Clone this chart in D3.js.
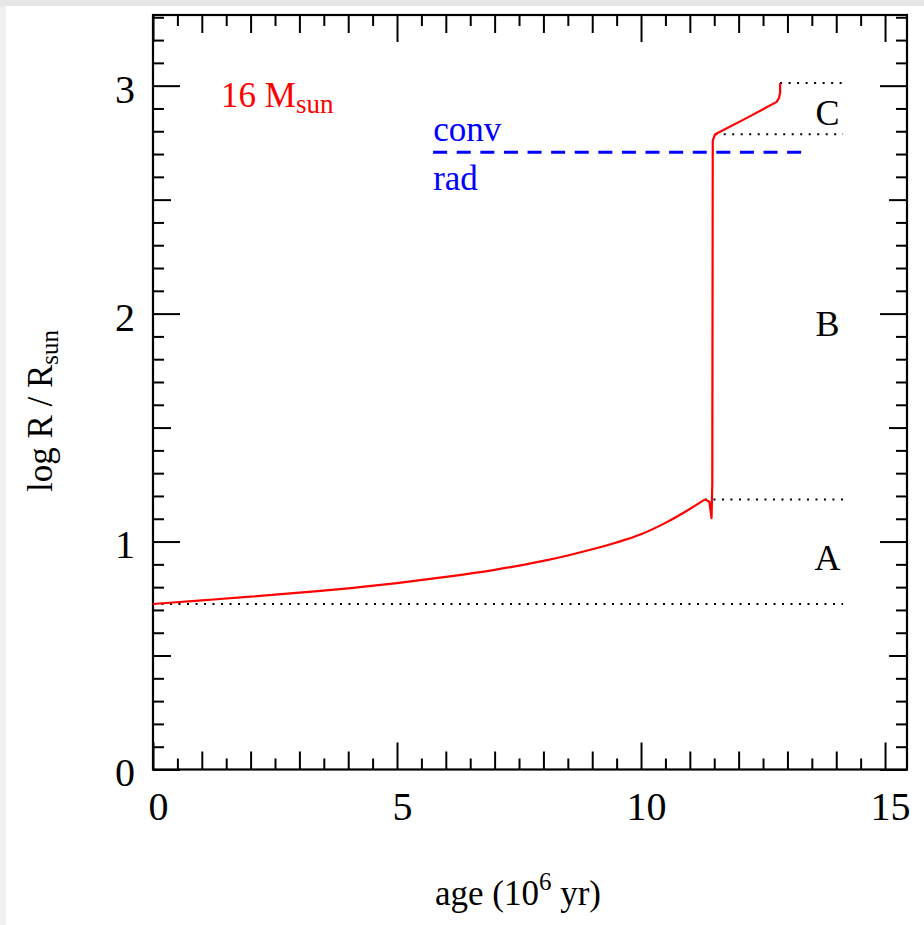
<!DOCTYPE html>
<html>
<head>
<meta charset="utf-8">
<script src="https://cdn.jsdelivr.net/npm/d3@7"></script>
<style>
  body { margin: 0; background: #fff; }
  text { font-family: "Liberation Serif", "Times New Roman", serif; }
</style>
</head>
<body>
<div id="chart"></div>
<script>
// age in Myr, log R / Rsun for the 16 Msun track
// main sequence part (smooth)
const msAge = [0, 1, 2, 3, 4, 5, 6, 7, 8, 8.5, 9, 9.5, 10, 10.5, 11, 11.31];
const msLogR = [0.726, 0.742, 0.758, 0.776, 0.795, 0.818, 0.845, 0.876, 0.915, 0.939, 0.966, 0.996, 1.032, 1.082, 1.143, 1.185];
// after the main sequence (hook, crossing, red supergiant)
const postAge = [11.31, 11.40, 11.445, 11.46, 11.47, 11.52, 12.2, 12.78, 12.83, 12.85, 12.85];
const postLogR = [1.185, 1.175, 1.103, 1.25, 2.76, 2.787, 2.862, 2.929, 2.947, 2.97, 3.012];

// dotted phase boundaries: [start age, level]
const boundaryStart = [0, 11.31, 11.52, 12.85];
const boundaryLevel = [0.726, 1.185, 2.787, 3.012];
const boundaryEnd = 14.14;

// conv / rad dashed line
const convRadLevel = 2.708;
const convRadRange = [5.74, 13.3];

const phaseLabels = ["A", "B", "C"];
const phaseLabelY = [0.932, 1.958, 2.884];

const xMajor = [0, 5, 10, 15];
const yMajor = [0, 1, 2, 3];

const W = 924, H = 925;
const margin = { top: 15, right: 17, bottom: 155.5, left: 153 },
    width = W - margin.left - margin.right,
    height = H - margin.top - margin.bottom;

const svgContainer = d3.select("#chart").append("svg")
    .attr("width", W)
    .attr("height", H);

svgContainer.append("rect").attr("width", W).attr("height", H).attr("fill", "#fff");
svgContainer.append("rect").attr("width", W).attr("height", 6).attr("fill", "#e6e6e6");
svgContainer.append("rect").attr("y", 6).attr("width", 6).attr("height", H - 6).attr("fill", "#efefef");

const svg = svgContainer.append("g")
    .attr("transform", `translate(${margin.left},${margin.top})`);

const x = d3.scaleLinear().domain([0, 15.45]).range([0, width]);
const y = d3.scaleLinear().domain([0, 3.31]).range([height, 0]);

const xMinor = d3.range(0.5, 15.5, 1);
const xMid = d3.range(1, 16, 1).filter(v => v % 5 !== 0);
const yMinor = d3.range(1, 34).map(i => i / 10).filter(v => Math.abs(v * 2 - Math.round(v * 2)) > 1e-6);
const yMid = [0.5, 1.5, 2.5];

const addTicks = (axisFn, transform, values, size, labels) => {
    const g = svg.append("g")
        .attr("transform", transform)
        .call(axisFn.tickValues(values).tickSize(-size).tickPadding(0)
            .tickFormat(labels ? d3.format("d") : ""));
    g.select(".domain").remove();
    g.selectAll("line").attr("stroke", "#000").attr("stroke-width", 2);
    return g;
};

// ticks on all four sides, pointing inward
[[xMinor, 11], [xMid, 18], [xMajor, 27]].forEach(([vals, size], i) => {
    const gb = addTicks(d3.axisBottom(x), `translate(0,${height})`, vals, size, i === 2);
    addTicks(d3.axisTop(x), "translate(0,0)", vals, size, false);
    if (i === 2) {
        gb.selectAll("text")
            .attr("y", 50).attr("dy", 0).attr("dx", 5)
            .style("font-size", "40px").attr("fill", "#000");
    }
});

[[yMinor, 11], [yMid, 18], [yMajor, 27]].forEach(([vals, size], i) => {
    const gl = addTicks(d3.axisLeft(y), "translate(0,0)", vals, size, i === 2);
    addTicks(d3.axisRight(y), `translate(${width},0)`, vals, size, false);
    if (i === 2) {
        gl.selectAll("text")
            .attr("x", -18).attr("dy", "0.41em")
            .style("font-size", "40px").attr("fill", "#000");
    }
});

svg.append("rect")
    .attr("width", width).attr("height", height)
    .attr("fill", "none").attr("stroke", "#000").attr("stroke-width", 2.2);

// dotted boundaries
svg.selectAll(".boundary")
    .data(boundaryLevel.map((lv, i) => ({ start: boundaryStart[i], level: lv })))
    .join("line")
    .attr("class", "boundary")
    .attr("x1", d => x(d.start)).attr("x2", x(boundaryEnd))
    .attr("y1", d => y(d.level)).attr("y2", d => y(d.level))
    .attr("stroke", "#000").attr("stroke-width", 2)
    .attr("stroke-dasharray", "2,6.5");

// conv / rad line
svg.append("line")
    .attr("x1", x(convRadRange[0])).attr("x2", x(convRadRange[1]))
    .attr("y1", y(convRadLevel)).attr("y2", y(convRadLevel))
    .attr("stroke", "#0000ff").attr("stroke-width", 3)
    .attr("stroke-dasharray", "14,9.6");

svg.append("text")
    .attr("x", x(convRadRange[0])).attr("y", y(convRadLevel) - 11)
    .attr("fill", "#0000ff").style("font-size", "35px")
    .text("conv");
svg.append("text")
    .attr("x", x(convRadRange[0])).attr("y", y(convRadLevel) + 38)
    .attr("fill", "#0000ff").style("font-size", "35px")
    .text("rad");

// track
const toPts = (ages, vals) => ages.map((a, i) => ({ key: a, value: vals[i] }));
const smoothLine = d3.line().x(d => x(d.key)).y(d => y(d.value)).curve(d3.curveMonotoneX);
const straightLine = d3.line().x(d => x(d.key)).y(d => y(d.value)).curve(d3.curveLinear);

[[toPts(msAge, msLogR), smoothLine], [toPts(postAge, postLogR), straightLine]].forEach(([pts, gen]) => {
    svg.append("path")
        .datum(pts)
        .attr("fill", "none")
        .attr("stroke", "#ff0000")
        .attr("stroke-width", 2.2)
        .attr("stroke-linejoin", "round")
        .attr("d", gen);
});

// phase labels
svg.selectAll(".phase")
    .data(phaseLabels)
    .join("text")
    .attr("class", "phase")
    .attr("x", x(13.82))
    .attr("y", (d, i) => y(phaseLabelY[i]))
    .attr("dy", "0.35em")
    .style("text-anchor", "middle")
    .style("font-size", "36px")
    .text(d => d);

// mass label
const mass = svg.append("text")
    .attr("x", 68).attr("y", 92)
    .attr("fill", "#ff0000").style("font-size", "35px");
mass.append("tspan").text("16 M");
mass.append("tspan").attr("dy", 6).style("font-size", "27px").text("sun");

// axis titles
const xt = svgContainer.append("text")
    .attr("x", 518).attr("y", 905)
    .style("text-anchor", "middle").style("font-size", "35px");
xt.append("tspan").text("age (10");
xt.append("tspan").attr("dy", -15).style("font-size", "25px").text("6");
xt.append("tspan").attr("dy", 15).text(" yr)");

const yt = svgContainer.append("text")
    .attr("transform", "translate(52,411) rotate(-90)")
    .style("text-anchor", "middle").style("font-size", "35px");
yt.append("tspan").text("log R / R");
yt.append("tspan").attr("dy", 6).style("font-size", "25px").text("sun");
</script>
</body>
</html>
